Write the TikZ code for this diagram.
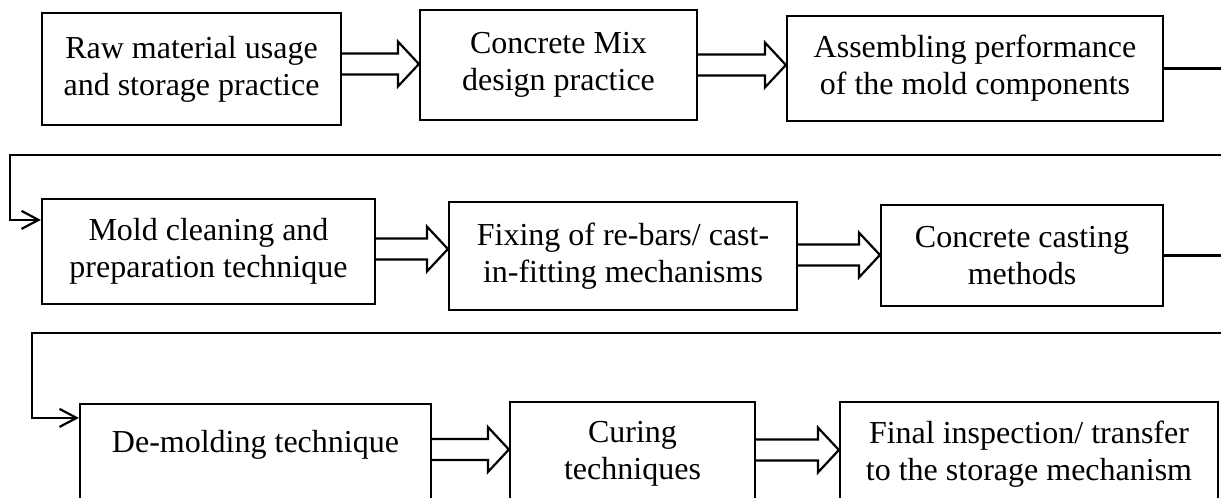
\documentclass[tikz,border=0pt]{standalone}
\usepackage{fontspec}
\setmainfont{Liberation Serif}
\usetikzlibrary{arrows.meta,calc}
\tikzset{
  box/.style={draw, line width=2.2pt, inner sep=0pt, align=center,
    font=\fontsize{32}{37}\selectfont},
  hollow/.style={line width=2.2pt, line join=miter},
  turn/.style={line width=2.2pt, -{Straight Barb[length=17pt,width=18pt]}},
}
\newcommand\fatarrow[3]{%
  \coordinate (fa-t) at (0,#3-10.5);
  \coordinate (fa-c) at (0,#3);
  \coordinate (fa-b) at (0,#3+10.5);
  \coordinate (fa-ht) at (0,#3-22.5);
  \coordinate (fa-hb) at (0,#3+22.5);
  \draw[hollow] (#1.east |- fa-t) -- ($(#2.west |- fa-t)+(-21,0)$)
    -- ($(#2.west |- fa-ht)+(-21,0)$) -- (#2.west |- fa-c)
    -- ($(#2.west |- fa-hb)+(-21,0)$) -- ($(#2.west |- fa-b)+(-21,0)$)
    -- (#1.east |- fa-b);}
\begin{document}
\begin{tikzpicture}[x=1pt,y=-1pt]
\useasboundingbox (0,0) rectangle (1221,498);
\clip (0,0) rectangle (1221,498);
% row 1
\node[box, minimum width=299pt, minimum height=112pt] (b1) at (191.5,69) {Raw material usage\\and storage practice};
\node[box, minimum width=277pt, minimum height=110pt] (b2) at (558.5,65) {Concrete Mix\\design practice};
\node[box, minimum width=376pt, minimum height=105pt] (b3) at (975,68.5) {Assembling performance\\of the mold components};
% row 2
\node[box, minimum width=333pt, minimum height=105pt] (b4) at (208.5,251.5) {Mold cleaning and\\preparation technique};
\node[box, minimum width=348pt, minimum height=108pt] (b5) at (623,256) {Fixing of re-bars/ cast-\\in-fitting mechanisms};
\node[box, minimum width=282pt, minimum height=101pt] (b6) at (1022,255.5) {Concrete casting\\methods};
% row 3
\node[box, minimum width=351pt, minimum height=122pt] (b7) at (255.5,465) {De-molding technique\\\strut};
\node[box, minimum width=245pt, minimum height=104pt] (b8) at (632.5,454) {Curing\\techniques};
\node[box, minimum width=378pt, minimum height=104pt] (b9) at (1029,454) {Final inspection/ transfer\\to the storage mechanism};
% hollow arrows
\fatarrow{b1}{b2}{64}
\fatarrow{b2}{b3}{65}
\fatarrow{b4}{b5}{249}
\fatarrow{b5}{b6}{255}
\fatarrow{b7}{b8}{449.5}
\fatarrow{b8}{b9}{450}
% turn connectors
\coordinate (c1) at (1240,155);
\coordinate (c2) at (10,155);
\coordinate (c3) at ($(b4.north west)+(0,22)$);
\draw[turn] (b3.east) -| (c1) -- (c2) |- (c3);
\coordinate (c4) at (1240,333);
\coordinate (c5) at (32,333);
\coordinate (c6) at ($(b7.north west)+(0,15)$);
\draw[turn] (b6.east) -| (c4) -- (c5) |- (c6);
\end{tikzpicture}
\end{document}
